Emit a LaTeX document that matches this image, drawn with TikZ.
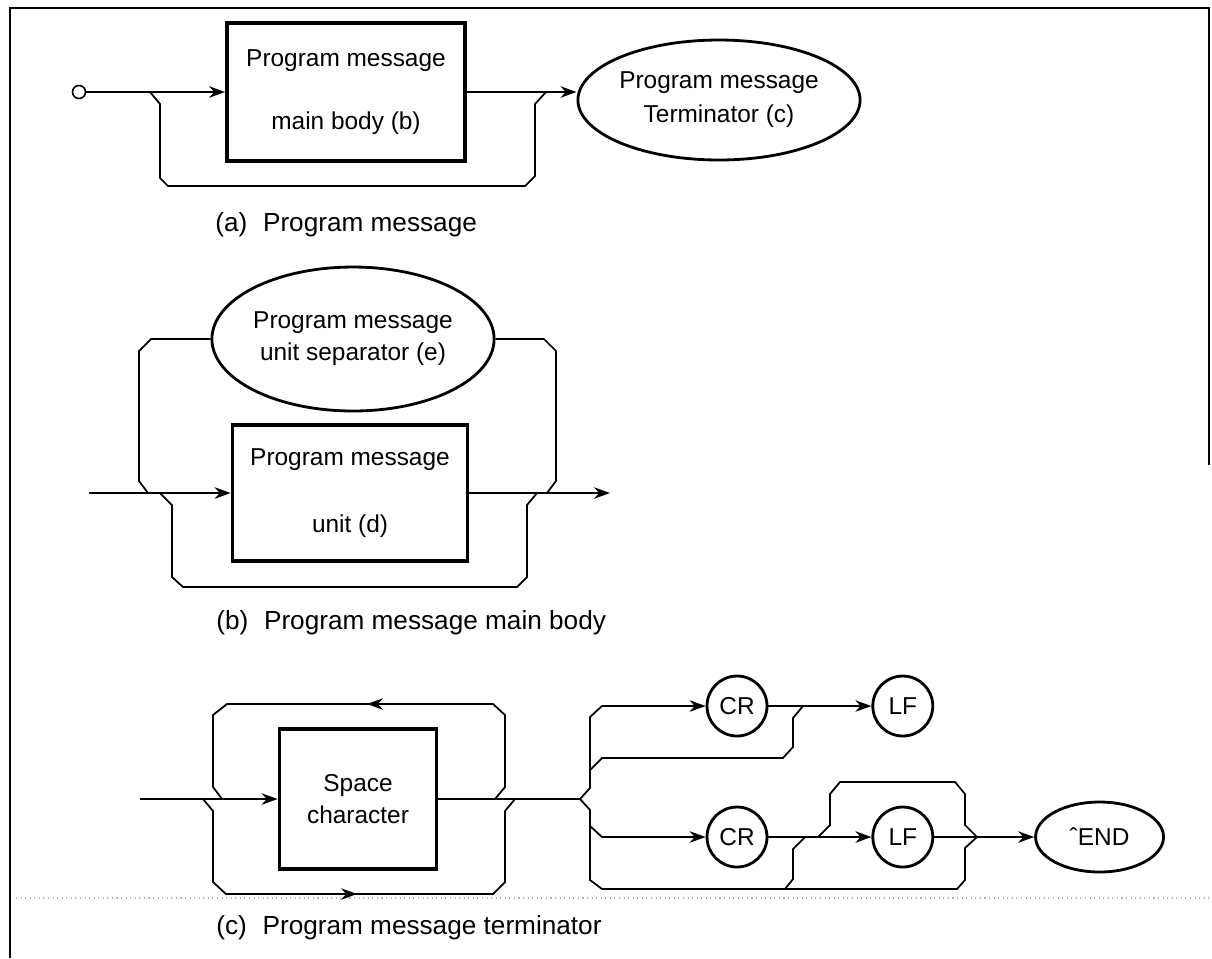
\documentclass[tikz,border=0pt]{standalone}
\usepackage{fontspec}
\setmainfont{Liberation Sans}
\usetikzlibrary{arrows.meta,positioning,shapes.geometric}
\tikzset{
  blockbox/.style={draw, line width=2.2pt, align=center, inner sep=0pt},
  ovalbox/.style={ellipse, draw, line width=1.6pt, align=center, inner sep=0pt},
  charbox/.style={circle, draw, line width=1.6pt, inner sep=0pt, minimum size=1.2cm},
  startdot/.style={circle, draw, line width=0.9pt, inner sep=0pt, minimum size=0.26cm},
  rail/.style={line width=1pt},
  arrow/.style={rail, -{Stealth[length=3.2mm, width=2.3mm]}},
  caption/.style={anchor=west, inner sep=0pt, font=\fontsize{14.9}{17}\selectfont},
  frame/.style={line width=1.2pt},
  scanline/.style={gray!60, dotted, line width=0.6pt}
}
\begin{document}
\begin{tikzpicture}[x=0.02cm, y=-0.02cm, font=\fontsize{13.9}{16}\selectfont]
  \useasboundingbox (0,0) rectangle (1212,958);
  \draw[frame] (10,958) -- (10,8) -- (1209,8) -- (1209,465);
  \draw[scanline] (16,898) -- (1212,898);

  % (a) program message
  \node[startdot] (start) at (79,92) {};
  \node[blockbox, minimum width=4.76cm, minimum height=2.76cm] (body) at (346,92) {Program message\\[0.7cm]main body (b)};
  \node[ovalbox, minimum width=4.76cm, minimum height=2.4cm] (term) at (719,100) {Program message\\[0.12cm]Terminator (c)};
  \coordinate (a-in) at (150,92);
  \coordinate (a-out) at (546,92);
  \draw[arrow] (start) -- (body);
  \draw[arrow] (body.east) -- (body.east -| term.west);
  \draw[rail] (a-in) -- ++(10,12) -- ++(0,74) -- ++(8,8) -- ++(357,0) -- ++(10,-10) -- ++(0,-72) -- (a-out);
  \node[caption] (cap-a) at (215,225) {(a)\hspace{0.6em}Program message};

  % (b) program message main body
  \coordinate (b-start) at (89,493);
  \coordinate (b-end) at (610,493);
  \node[blockbox, minimum width=4.7cm, minimum height=2.72cm] (unit) at (350,493) {Program message\\[0.78cm]unit (d)};
  \node[ovalbox, minimum width=4.84cm, minimum height=2.88cm] (sep) at (353,339) {Program message\\[0.08cm]unit separator (e)};
  \coordinate (b-in1) at (148,493);
  \coordinate (b-in2) at (160,493);
  \coordinate (b-out2) at (537,493);
  \coordinate (b-out1) at (547,493);
  \draw[arrow] (b-start) -- (unit);
  \draw[arrow] (unit) -- (b-end);
  \draw[rail] (b-out1) -- ++(9,-12) -- ++(0,-130) -- ++(-12,-12) -- (sep.east);
  \draw[rail] (b-in1) -- ++(-9,-12) -- ++(0,-130) -- ++(12,-12) -- (sep.west);
  \draw[rail] (b-in2) -- ++(12,12) -- ++(0,72) -- ++(11,10) -- ++(334,0) -- ++(10,-10) -- ++(0,-72) -- (b-out2);
  \node[caption] (cap-b) at (216,623) {(b)\hspace{0.6em}Program message main body};

  % (c) program message terminator
  \coordinate (c-start) at (140,799);
  \node[blockbox, minimum width=3.14cm, minimum height=2.8cm] (space) at (358,799) {Space\\[0.076cm]character};
  \coordinate (c-rep-out) at (495,799);
  \coordinate (c-rep-in) at (222,799);
  \coordinate (c-skip-in) at (203,799);
  \coordinate (c-skip-out) at (515,799);
  \coordinate (c-rep-tail) at (410,704);
  \coordinate (c-rep-tip) at (367,704);
  \coordinate (c-skip-tail) at (315,894);
  \coordinate (c-skip-tip) at (357,894);
  \draw[arrow] (c-start) -- (space);
  \draw[rail] (c-rep-out) -- ++(10,-12) -- ++(0,-72) -- ++(-12,-11) -- ++(-266,0) -- ++(-14,11) -- ++(0,72) -- (c-rep-in);
  \draw[arrow] (c-rep-tail) -- (c-rep-tip);
  \draw[rail] (c-skip-in) -- ++(10,12) -- ++(0,71) -- ++(13,12) -- ++(267,0) -- ++(12,-12) -- ++(0,-71) -- (c-skip-out);
  \draw[arrow] (c-skip-tail) -- (c-skip-tip);

  \coordinate (split) at (580,799);
  \node[charbox] (cr1) at (737,706) {CR};
  \node[charbox, right=2.06cm of cr1] (lf1) {LF};
  \node[charbox] (cr2) at (737,837) {CR};
  \node[charbox, right=2.06cm of cr2] (lf2) {LF};
  \node[ovalbox, minimum width=2.56cm, minimum height=1.4cm, right=2cm of lf2] (endm) {\char"02C6 END};
  \coordinate (c-cr1-skip) at (803,706);
  \coordinate (c-cr2-fork) at (590,826);
  \coordinate (c-cr2-skip) at (805,837);
  \coordinate (c-lf-in) at (818,837);
  \coordinate (c-join) at (977,837);

  \draw[rail] (space) -- (split);
  \draw[arrow] (split) -- ++(10,-11) -- ++(0,-71) -- ++(12,-11) -- (cr1);
  \draw[arrow] (cr1) -- (lf1);
  \draw[rail] (c-cr1-skip) -- ++(-10,12) -- ++(0,29) -- ++(-10,11) -- ++(-181,0) -- ++(-12,12);
  \draw[rail] (split) -- ++(10,11) -- ++(0,70) -- ++(12,9) -- ++(355,0) -- ++(8,-9) -- ++(0,-32) -- (c-join);
  \draw[arrow] (c-cr2-fork) -- ++(12,11) -- (cr2);
  \draw[arrow] (cr2) -- (lf2);
  \draw[rail] (c-cr2-skip) -- ++(-12,12) -- ++(0,30) -- ++(-8,10);
  \draw[rail] (c-lf-in) -- ++(12,-12) -- ++(0,-31) -- ++(10,-12) -- ++(115,0) -- ++(10,12) -- ++(0,31) -- (c-join);
  \draw[rail] (lf2) -- (c-join);
  \draw[arrow] (c-join) -- (endm);
  \node[caption] (cap-c) at (216,928) {(c)\hspace{0.6em}Program message terminator};
\end{tikzpicture}
\end{document}
